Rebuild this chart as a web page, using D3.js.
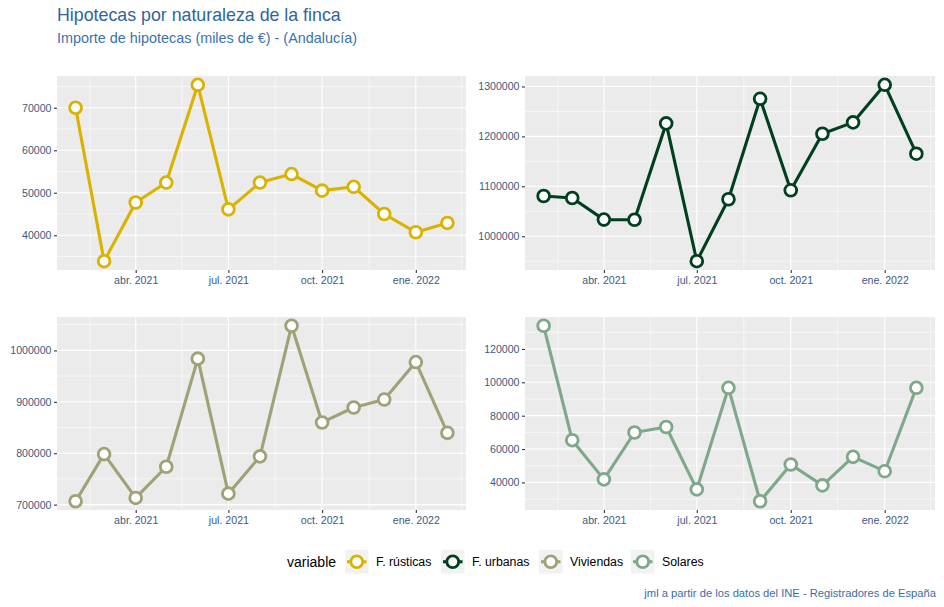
<!DOCTYPE html>
<html><head><meta charset="utf-8">
<script src="https://cdn.jsdelivr.net/npm/d3@7"></script>
<style>
body{margin:0;background:#fff;}
svg{font-family:"Liberation Sans",Arial,sans-serif;display:block;}
</style></head>
<body><svg id="chart" width="944" height="607"></svg>
<script>
const months = ["2021-02-01","2021-03-01","2021-04-01","2021-05-01","2021-06-01","2021-07-01","2021-08-01","2021-09-01","2021-10-01","2021-11-01","2021-12-01","2022-01-01","2022-02-01"];
const seriesNames = ["F. rústicas","F. urbanas","Viviendas","Solares"];
const rusticas = [70000,33900,47700,52400,75400,46100,52400,54400,50500,51400,45000,40700,42900];
const urbanas = [1080600,1076600,1033300,1033000,1226000,950000,1074000,1275300,1092000,1205300,1228000,1303300,1165300];
const viviendas = [706600,798300,713000,773700,983900,721300,793800,1047900,859800,888900,904400,977300,839600];
const solares = [133900,65300,41800,69900,73200,35800,96700,28700,50700,38200,55300,46700,96700];
const seriesColors = ["#d9b300","#00401f","#a1a178","#7fa88a"];
const xTickDates = ["2021-04-01","2021-07-01","2021-10-01","2022-01-01"];
const xTickLabels = ["abr. 2021","jul. 2021","oct. 2021","ene. 2022"];
const yTicks = [
  [40000,50000,60000,70000],
  [1000000,1100000,1200000,1300000],
  [700000,800000,900000,1000000],
  [40000,60000,80000,100000,120000]
];
const titleText = "Hipotecas por naturaleza de la finca";
const subtitleText = "Importe de hipotecas (miles de €) - (Andalucía)";
const captionText = "jml a partir de los datos del INE - Registradores de España";
const legendTitle = "variable";

const svg = d3.select("#chart");
const parse = d3.timeParse("%Y-%m-%d");
const dates = months.map(parse);
const allValues = [rusticas, urbanas, viviendas, solares];
const txtCol = "#3b5b82";

const panels = [
  {x0:57, x1:466, y0:76, y1:270},
  {x0:525, x1:935, y0:76, y1:270},
  {x0:57, x1:466, y0:317, y1:510},
  {x0:525, x1:935, y0:317, y1:510}
];

// title
svg.append("text").attr("x",57).attr("y",21).attr("font-size",17.8).attr("fill","#2f659c").text(titleText);
svg.append("text").attr("x",57).attr("y",43).attr("font-size",14.4).attr("fill","#3a72ad").text(subtitleText);

const xExt = d3.extent(dates);
const xPad = (xExt[1]-xExt[0])*0.05;
const xDomain = [new Date(+xExt[0]-xPad), new Date(+xExt[1]+xPad)];
const majorX = xTickDates.map(parse);
const qBreaks = [parse("2021-01-01"), ...majorX, parse("2022-04-01")];
const minorX = [];
for (let i=0;i<qBreaks.length-1;i++) minorX.push(new Date((+qBreaks[i]+ +qBreaks[i+1])/2));

allValues.forEach((vals, i) => {
  const p = panels[i];
  const g = svg.append("g");
  const x = d3.scaleTime().domain(xDomain).range([p.x0, p.x1]);
  const ext = d3.extent(vals);
  const pad = (ext[1]-ext[0])*0.05;
  const y = d3.scaleLinear().domain([ext[0]-pad, ext[1]+pad]).range([p.y1, p.y0]);
  g.append("rect").attr("x",p.x0).attr("y",p.y0).attr("width",p.x1-p.x0).attr("height",p.y1-p.y0).attr("fill","#ebebeb");
  const yt = yTicks[i];
  const step = yt[1]-yt[0];
  const minorY = [];
  for (let v = yt[0]-step/2; v <= y.domain()[1]; v += step) if (v >= y.domain()[0]) minorY.push(v);
  g.selectAll(".mny").data(minorY).enter().append("line")
    .attr("x1",p.x0).attr("x2",p.x1).attr("y1",d=>y(d)).attr("y2",d=>y(d))
    .attr("stroke","#fff").attr("stroke-width",0.55);
  g.selectAll(".mnx").data(minorX.filter(d=>x(d)>=p.x0 && x(d)<=p.x1)).enter().append("line")
    .attr("y1",p.y0).attr("y2",p.y1).attr("x1",d=>x(d)).attr("x2",d=>x(d))
    .attr("stroke","#fff").attr("stroke-width",0.55);
  g.selectAll(".mjy").data(yt).enter().append("line")
    .attr("x1",p.x0).attr("x2",p.x1).attr("y1",d=>y(d)).attr("y2",d=>y(d))
    .attr("stroke","#fff").attr("stroke-width",1.1);
  g.selectAll(".mjx").data(majorX).enter().append("line")
    .attr("y1",p.y0).attr("y2",p.y1).attr("x1",d=>x(d)).attr("x2",d=>x(d))
    .attr("stroke","#fff").attr("stroke-width",1.1);
  const ax = g.append("g").attr("transform",`translate(0,${p.y1})`)
    .call(d3.axisBottom(x).tickValues(majorX).tickFormat((d,j)=>xTickLabels[j]).tickSizeInner(3).tickSizeOuter(0).tickPadding(3));
  const ay = g.append("g").attr("transform",`translate(${p.x0},0)`)
    .call(d3.axisLeft(y).tickValues(yt).tickFormat(d3.format("d")).tickSizeInner(3).tickSizeOuter(0).tickPadding(2.5));
  [ax, ay].forEach(a => {
    a.select(".domain").remove();
    a.selectAll(".tick line").attr("stroke","#333").attr("stroke-width",1.1);
    a.selectAll(".tick text").attr("fill",txtCol).attr("font-size",10.6).attr("font-family","Liberation Sans, Arial, sans-serif");
  });
  const pts = dates.map((d,j)=>({d, v: vals[j]}));
  g.append("path").datum(pts)
    .attr("d", d3.line().x(d=>x(d.d)).y(d=>y(d.v)))
    .attr("fill","none").attr("stroke",seriesColors[i]).attr("stroke-width",3.1).attr("stroke-linejoin","round");
  g.selectAll(".pt").data(pts).enter().append("circle")
    .attr("cx",d=>x(d.d)).attr("cy",d=>y(d.v)).attr("r",5.9)
    .attr("fill","#fff").attr("stroke",seriesColors[i]).attr("stroke-width",2.8);
});

const lg = svg.append("g");
lg.append("text").attr("x",287).attr("y",567).attr("font-size",14).attr("fill","#000").text(legendTitle);
const keyX = [345, 441, 539, 631];
seriesNames.forEach((n,i) => {
  const kx = keyX[i], ky = 550, ks = 23.5;
  lg.append("rect").attr("x",kx).attr("y",ky).attr("width",ks).attr("height",ks).attr("fill","#f2f2f2");
  lg.append("line").attr("x1",kx+2).attr("x2",kx+ks-2).attr("y1",ky+ks/2).attr("y2",ky+ks/2)
    .attr("stroke",seriesColors[i]).attr("stroke-width",3.1);
  lg.append("circle").attr("cx",kx+ks/2).attr("cy",ky+ks/2).attr("r",5.9)
    .attr("fill","#fff").attr("stroke",seriesColors[i]).attr("stroke-width",2.8);
  lg.append("text").attr("x",kx+ks+7.5).attr("y",566).attr("font-size",12.3).attr("fill","#000").text(n);
});

svg.append("text").attr("x",936).attr("y",597).attr("text-anchor","end").attr("font-size",11.2).attr("fill","#3a6ea6").text(captionText);
</script></body></html>
